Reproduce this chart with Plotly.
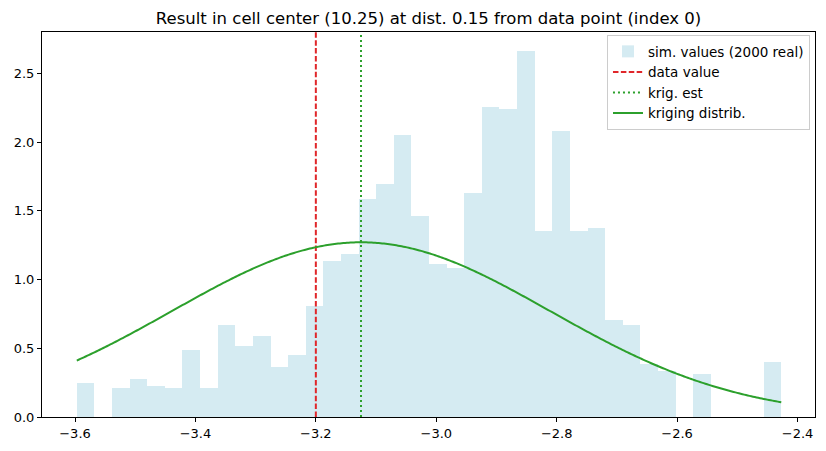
import numpy as np
import plotly.graph_objects as go

# Histogram (density) of simulated values: 40 bins
bin_min = -3.597
bin_max = -2.427
density = [0.249, 0.0, 0.213, 0.278, 0.227, 0.213, 0.488, 0.213, 0.669, 0.517,
           0.589, 0.365, 0.452, 0.807, 1.133, 1.184, 1.589, 1.691, 2.053, 1.459,
           1.111, 1.082, 1.626, 2.256, 2.242, 2.662, 1.350, 2.082, 1.350, 1.372,
           0.705, 0.669, 0.382, 0.331, 0.0, 0.314, 0.0, 0.0, 0.0, 0.401]

data_value = -3.2
krig_est = -3.125
krig_std = 0.314

x_ticks = [-3.6, -3.4, -3.2, -3.0, -2.8, -2.6, -2.4]
x_ticklabels = ["\u22123.6", "\u22123.4", "\u22123.2", "\u22123.0", "\u22122.8", "\u22122.6", "\u22122.4"]
y_ticks = [0.0, 0.5, 1.0, 1.5, 2.0, 2.5]
y_ticklabels = ["0.0", "0.5", "1.0", "1.5", "2.0", "2.5"]

edges = np.linspace(bin_min, bin_max, len(density) + 1)
centers = (edges[:-1] + edges[1:]) / 2
width = edges[1] - edges[0]

xs = np.linspace(bin_min, bin_max, 400)
pdf = np.exp(-0.5 * ((xs - krig_est) / krig_std) ** 2) / (krig_std * np.sqrt(2 * np.pi))

ymax = 2.80
fig = go.Figure()
fig.add_trace(go.Bar(x=centers, y=density, width=width, marker=dict(color="#add8e6", line=dict(width=0)),
                     opacity=0.5, name="sim. values (2000 real)"))
fig.add_trace(go.Scatter(x=[data_value, data_value], y=[0, ymax], mode="lines",
                         line=dict(color="#e0262a", dash="5.5px,2.4px", width=2), name="data value"))
fig.add_trace(go.Scatter(x=[krig_est, krig_est], y=[0, ymax], mode="lines",
                         line=dict(color="#2ca02c", dash="2px,3px", width=2), name="krig. est"))
fig.add_trace(go.Scatter(x=xs, y=pdf, mode="lines",
                         line=dict(color="#2ca02c", width=2, simplify=False), name="kriging distrib."))

axis_common = dict(showgrid=False, zeroline=False, showline=True, linecolor="black", linewidth=1,
                   mirror=True, ticks="outside", ticklen=4, tickcolor="black",
                   tickfont=dict(family="DejaVu Sans", size=13, color="black"))
fig.update_layout(
    width=826, height=451,
    margin=dict(l=42, r=11, t=32, b=34),
    paper_bgcolor="white", plot_bgcolor="white",
    bargap=0,
    title=dict(text="Result in cell center (10.25) at dist. 0.15 from data point (index 0)",
               x=(42 + 815) / 2 / 826, xanchor="center", y=1 - 18 / 451, yanchor="middle",
               font=dict(family="DejaVu Sans", size=16.5, color="black")),
    xaxis=dict(range=[-3.6548, -2.371], tickvals=x_ticks, ticktext=x_ticklabels, **axis_common),
    yaxis=dict(range=[0, ymax], tickvals=y_ticks, ticktext=y_ticklabels, **axis_common),
    legend=dict(x=0.9935, xanchor="right", y=0.992, yanchor="top",
                bgcolor="rgba(255,255,255,0.8)", bordercolor="#cccccc", borderwidth=1,
                font=dict(family="DejaVu Sans", size=13.5, color="black"),
                tracegroupgap=0, itemwidth=30),
    showlegend=True,
)
fig.write_html("out.html")
